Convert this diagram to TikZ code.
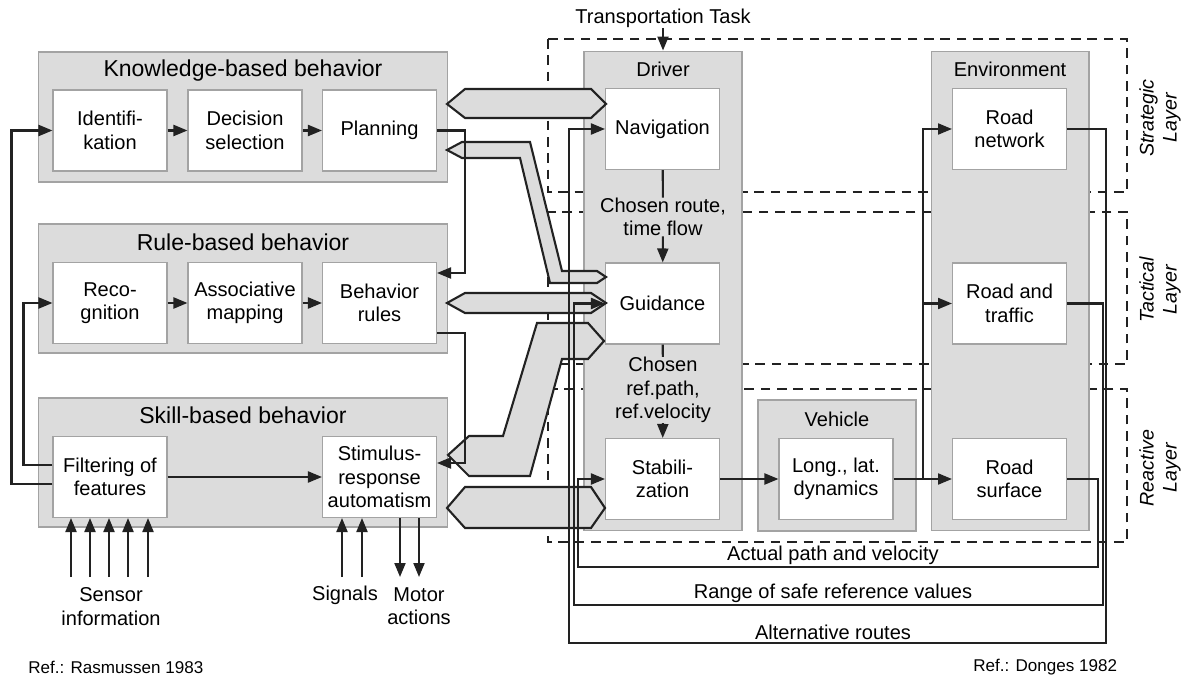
\documentclass[tikz,border=0pt]{standalone}
\usepackage{fontspec}
\setmainfont{Liberation Sans}
\usetikzlibrary{arrows.meta,calc}
\definecolor{grpfill}{HTML}{DCDCDC}
\definecolor{grpline}{HTML}{A3A3A3}
\definecolor{ink}{HTML}{222222}
\tikzset{
  grp/.style={draw=grpline, fill=grpfill, line width=0.6pt, inner sep=0pt},
  blk/.style={draw=grpline, fill=white, line width=0.6pt, minimum width=2.28cm,
              minimum height=1.62cm, align=center, inner sep=0pt,
              font=\fontsize{11.4}{13.3}\selectfont},
  ttl/.style={font=\fontsize{13.1}{15}\selectfont, inner sep=0pt},
  lbl/.style={font=\fontsize{11.4}{13.3}\selectfont, align=center, inner sep=0pt},
  layer/.style={draw=ink, line width=1.2pt, dash pattern=on 5.5pt off 3.8pt},
  flow/.style={draw=ink, line width=1.2pt, -{Triangle[length=2.8mm,width=2.2mm]}},
  wire/.style={draw=ink, line width=1.2pt},
  hexa/.style={draw=ink, fill=grpfill, line width=1.2pt, line join=miter},
  laytxt/.style={font=\fontsize{11.2}{13.2}\selectfont\itshape, rotate=90,
                 align=center, inner sep=0pt},
  refs/.style={font=\fontsize{9.7}{11}\selectfont, anchor=west, inner sep=0pt},
}
\begin{document}
\begin{tikzpicture}[x=0.02cm, y=-0.02cm]
  \useasboundingbox (0,0) rectangle (1186,678);

  % layers
  \draw[layer] (548,39) rectangle (1127,192);
  \draw[layer] (548,212) rectangle (1127,364);
  \draw[layer] (548,389) rectangle (1127,542);
  \node[laytxt] (strat) at (1160,118) {Strategic\\Layer};
  \node[laytxt] (tact) at (1160,290) {Tactical\\Layer};
  \node[laytxt] (react) at (1160,468) {Reactive\\Layer};

  % Rasmussen
  \node[grp, minimum width=8.2cm, minimum height=2.6cm] (kb) at (243,117) {};
  \node[ttl] (kbt) at ([yshift=-0.38cm]kb.north) {Knowledge-based behavior};
  \node[grp, minimum width=8.2cm, minimum height=2.58cm] (rb) at (243,288.5) {};
  \node[ttl] (rbt) at ([yshift=-0.38cm]rb.north) {Rule-based behavior};
  \node[grp, minimum width=8.2cm, minimum height=2.58cm] (sb) at (243,462.5) {};
  \node[ttl] (sbt) at ([yshift=-0.36cm]sb.north) {Skill-based behavior};

  \node[blk] (idf) at (110,130.5) {Identifi-\\kation};
  \node[blk] (dec) at (245,130.5) {Decision\\selection};
  \node[blk] (pln) at (379.5,130.5) {Planning};
  \node[blk] (rec) at (110,303) {Reco-\\gnition};
  \node[blk] (asm) at (245,303) {Associative\\mapping};
  \node[blk] (brl) at (379.5,303) {Behavior\\rules};
  \node[blk] (flt) at (110,477) {Filtering of\\features};
  \node[blk] (srs) at (379.5,477) {Stimulus-\\response\\automatism};

  % Donges
  \node[grp, minimum width=3.16cm, minimum height=9.6cm] (drv) at (663,291) {};
  \node[lbl] (drvt) at ([yshift=-0.38cm]drv.north) {Driver};
  \node[grp, minimum width=3.16cm, minimum height=2.62cm] (veh) at (837,465.5) {};
  \node[lbl] (veht) at ([yshift=-0.4cm]veh.north) {Vehicle};
  \node[grp, minimum width=3.16cm, minimum height=9.6cm] (env) at (1010,291) {};
  \node[lbl] (envt) at ([yshift=-0.38cm]env.north) {Environment};

  \node[blk] (nav) at (662.5,129) {Navigation};
  \node[blk] (gui) at (662.5,303.5) {Guidance};
  \node[blk] (stb) at (662.5,479) {Stabili-\\zation};
  \node[blk] (lld) at (836,479) {Long., lat.\\dynamics};
  \node[blk] (rnw) at (1009.5,129) {Road\\network};
  \node[blk] (rtr) at (1009.5,303.5) {Road and\\traffic};
  \node[blk] (rsf) at (1009.5,479) {Road\\surface};

  % hexagon arrows
  \draw[hexa] (447,104) -- (465,89) -- (591,89) -- (606,104) -- (591,118) -- (465,118) -- cycle;
  \draw[hexa] (447,150) -- (462,142) -- (530,142) -- (562,271) -- (597,271) -- (606,277)
    -- (597,283) -- (550,283) -- (520,158) -- (462,158) -- cycle;
  \draw[hexa] (447,303) -- (465,293) -- (591,293) -- (606,303) -- (591,313) -- (465,313) -- cycle;
  \draw[hexa] (448,455) -- (469,436) -- (503,436) -- (537,323) -- (588,323) -- (604,341)
    -- (588,359) -- (562,359) -- (530,476) -- (469,476) -- cycle;
  \draw[hexa] (447,508) -- (465,487) -- (591,487) -- (605,508) -- (591,528) -- (465,528) -- cycle;

  \draw[flow] (idf) -- (dec);
  \draw[flow] (dec) -- (pln);
  \draw[flow] (rec) -- (asm);
  \draw[flow] (asm) -- (brl);
  \draw[flow] (flt) -- (srs);
  \draw[flow] (pln.east) -- ++(28,0) |- ([yshift=0.6cm]brl.east);
  \draw[flow] ([yshift=-0.6cm]brl.east) -- ++(28,0) |- ([yshift=0.28cm]srs.east);
  \draw[flow] ([yshift=0.24cm]flt.west) -- ++(-29,0) |- (rec.west);
  \draw[flow] ([yshift=-0.14cm]flt.west) -- ++(-41,0) |- (idf.west);

  \foreach \x in {71,90,109,128,148}
    \draw[flow] (\x,577) -- (\x,0 |- flt.south);
  \foreach \x in {342,362}
    \draw[flow] (\x,577) -- (\x,0 |- srs.south);
  \foreach \x in {400,419}
    \draw[flow] (\x,0 |- srs.south) -- (\x,577);
  \node[lbl] (sens) at (111,606.5) {Sensor\\information};
  \node[lbl] (sig) at (345,595) {Signals};
  \node[lbl] (mot) at (419,606.5) {Motor\\actions};

  \node[lbl] (task) at (663,18) {Transportation Task};
  \draw[flow] (663,28) -- (drv.north);
  \node[lbl] (crt) at (663,217) {Chosen route,\\time flow};
  \draw[wire] (nav) -- (crt);
  \draw[flow] (crt) -- (gui);
  \node[lbl] (crp) at (663,390) {Chosen\\ref.path,\\ref.velocity};
  \draw[wire] (gui) -- (crp);
  \draw[flow] (crp) -- (stb);

  \draw[flow] (stb) -- (lld);
  \draw[flow] (lld) -- (rsf);
  \coordinate (split) at ($(lld.east)!0.5!(rsf.west)$);
  \draw[flow] (split) |- (rnw.west);
  \draw[flow] (split |- rtr.west) -- (rtr.west);

  \draw[flow] (rnw.east) -- ++(39,0) |- (569,643) |- (nav.west);
  \draw[flow] (rtr.east) -- ++(36,0) |- (574,605) |- (gui.west);
  \draw[flow] (rsf.east) -- ++(31,0) |- (578,567) |- (stb.west);
  \node[lbl] (act) at (833,555) {Actual path and velocity};
  \node[lbl] (rng) at (833,593) {Range of safe reference values};
  \node[lbl] (alt) at (833,632) {Alternative routes};

  \node[refs] (ras) at (28,667) {Ref.: Rasmussen 1983};
  \node[refs] (don) at (973,667) {Ref.: Donges 1982};
\end{tikzpicture}
\end{document}
